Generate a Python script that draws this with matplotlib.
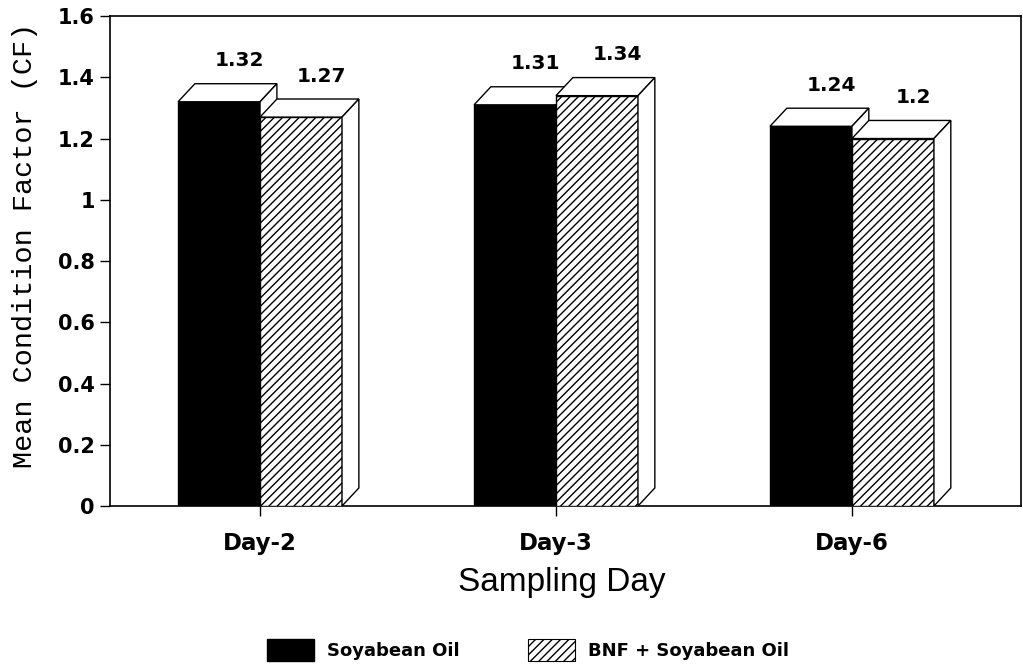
import numpy as np
import matplotlib.pyplot as plt
from matplotlib.patches import Polygon, Patch

# data
days = ['Day-2', 'Day-3', 'Day-6']
soy_oil = [1.32, 1.31, 1.24]
bnf_soy = [1.27, 1.34, 1.2]
series_names = ['Soyabean Oil', 'BNF + Soyabean Oil']
yticks = [0, 0.2, 0.4, 0.6, 0.8, 1, 1.2, 1.4, 1.6]

# fake 3D depth of the boxes (data units)
width = 0.277
dx, dy = 0.057, 0.059

plt.rcParams['hatch.linewidth'] = 1.0

fig = plt.figure(figsize=(10.23, 6.68), dpi=100)
ax = fig.add_axes([0.1075, 0.2425, 0.8905, 0.7335])

x = np.arange(len(days))


def add_box(ax, xl, h, z):
    # top and side faces of a box whose front face starts at xl
    xr = xl + width
    top = Polygon([(xl, h), (xl + dx, h + dy), (xr + dx, h + dy), (xr, h)],
                  closed=True, fc='white', ec='black', lw=1, zorder=z)
    side = Polygon([(xr, 0), (xr + dx, dy), (xr + dx, h + dy), (xr, h)],
                   closed=True, fc='white', ec='black', lw=1, zorder=z)
    ax.add_patch(top)
    ax.add_patch(side)


bars1 = ax.bar(x - width, soy_oil, width, align='edge', color='black',
               edgecolor='black', lw=1, zorder=2, label=series_names[0])
for b in bars1:
    add_box(ax, b.get_x(), b.get_height(), 2.1)

bars2 = ax.bar(x, bnf_soy, width, align='edge', color='white', hatch='////',
               edgecolor='black', lw=1, zorder=3, label=series_names[1])
for b in bars2:
    add_box(ax, b.get_x(), b.get_height(), 3.1)

# value labels above each box
for bars in (bars1, bars2):
    for b in bars:
        h = b.get_height()
        ax.annotate(f'{h:g}', (b.get_x() + width / 2, h), xytext=(14.5, 29.5),
                    textcoords='offset points', ha='center', va='center',
                    fontsize=14.5, fontweight='bold', family='DejaVu Sans')

ax.set_xlim(-0.507, 2.571)
ax.set_ylim(0, 1.6)
ax.set_xticks(x)
ax.set_xticklabels(days, fontsize=16.5, fontweight='bold', family='DejaVu Sans')
ax.set_yticks(yticks)
ax.set_yticklabels([f'{v:g}' for v in yticks], fontsize=15, fontweight='bold',
                   family='DejaVu Sans')
ax.tick_params(axis='y', direction='out', length=7, width=1, pad=4)
ax.tick_params(axis='x', direction='out', length=7, width=1, pad=12)
for s in ax.spines.values():
    s.set_linewidth(1.2)

fig.text(25 / 1023, 1 - 245 / 668, 'Mean Condition Factor (CF)', rotation=90,
         ha='center', va='center', fontsize=20.5, family='Liberation Mono')
fig.text(562 / 1023, 1 - 582 / 668, 'Sampling Day', ha='center', va='center',
         fontsize=24, family='Liberation Sans')

handles = [Patch(facecolor='black', edgecolor='black'),
           Patch(facecolor='white', edgecolor='black', hatch='////', lw=0.8)]
fig.legend(handles, series_names, loc='center', ncol=2, frameon=False,
           bbox_to_anchor=(528 / 1023, 1 - 650 / 668),
           prop={'family': 'DejaVu Sans', 'weight': 'bold', 'size': 13},
           handlelength=2.6, handleheight=1.55, handletextpad=0.7,
           columnspacing=3.8)

fig.savefig('out.png', dpi=100)
